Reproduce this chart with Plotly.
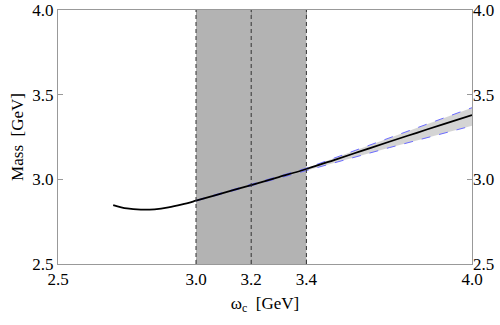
import plotly.graph_objects as go

omega = [2.70, 2.75, 2.80, 2.85, 2.90, 2.95, 3.00, 3.10, 3.20, 3.30, 3.40, 3.50, 3.60, 3.70, 3.80, 3.90, 4.00]
mass = [2.848, 2.828, 2.821, 2.823, 2.834, 2.852, 2.874, 2.920, 2.966, 3.013, 3.061, 3.114, 3.168, 3.222, 3.275, 3.328, 3.380]

band_omega = [3.00, 3.10, 3.20, 3.30, 3.40, 3.50, 3.60, 3.70, 3.80, 3.90, 4.00]
band_upper = [2.876, 2.923, 2.969, 3.017, 3.066, 3.125, 3.184, 3.244, 3.303, 3.363, 3.423]
band_lower = [2.872, 2.917, 2.963, 3.009, 3.055, 3.099, 3.143, 3.187, 3.230, 3.273, 3.316]

window_lo, window_mid, window_hi = 3.0, 3.2, 3.4
x_ticks = [2.5, 3.0, 3.2, 3.4, 4.0]
y_ticks = [2.5, 3.0, 3.5, 4.0]

font = "Liberation Serif"
fig = go.Figure()

fig.add_vrect(x0=window_lo, x1=window_hi, fillcolor="#b3b3b3", opacity=1, line_width=0, layer="below")
for xv in [window_lo, window_mid, window_hi]:
    fig.add_vline(x=xv, line=dict(color="#333333", width=1, dash="4px,3px"))

fig.add_trace(go.Scatter(x=band_omega, y=band_lower, mode="lines",
                         line=dict(color="#6a6aff", width=1, dash="dash"), showlegend=False))
fig.add_trace(go.Scatter(x=band_omega, y=band_upper, mode="lines", fill="tonexty",
                         fillcolor="rgba(205,205,205,0.85)",
                         line=dict(color="#6a6aff", width=1, dash="dash"), showlegend=False))
fig.add_trace(go.Scatter(x=omega, y=mass, mode="lines",
                         line=dict(color="black", width=1.8, shape="spline"), showlegend=False))
fig.add_trace(go.Scatter(x=[2.5], y=[2.5], yaxis="y2", mode="markers",
                         marker=dict(opacity=0), showlegend=False, hoverinfo="skip"))

axis_common = dict(showgrid=False, zeroline=False, ticks="inside", ticklen=5,
                   tickcolor="#999999", linecolor="#999999", linewidth=1, automargin=False,
                   tickfont=dict(family=font, size=17, color="black"))

fig.update_layout(
    width=500, height=325,
    margin=dict(l=58, r=28, t=10, b=61),
    plot_bgcolor="white", paper_bgcolor="white",
    xaxis=dict(range=[2.5, 4.0], tickvals=x_ticks, ticktext=[f"{v:.1f}" for v in x_ticks],
               mirror="ticks", showline=True,
               title=dict(text="ω<sub>c</sub>  [GeV]", font=dict(family=font, size=17, color="black"), standoff=8),
               **axis_common),
    yaxis=dict(range=[2.5, 4.0], tickvals=y_ticks, ticktext=[f"{v:.1f}" for v in y_ticks],
               showline=True, mirror=True,
               title=dict(text="Mass  [GeV]", font=dict(family=font, size=17, color="black"), standoff=4),
               **axis_common),
    yaxis2=dict(range=[2.5, 4.0], tickvals=y_ticks, ticktext=[f"{v:.1f}" for v in y_ticks],
                overlaying="y", side="right", showline=False, **axis_common),
)

fig.write_html("out.html", config={"displayModeBar": False},
               post_script="document.body.style.margin='0';document.body.style.padding='0';document.body.style.overflow='hidden';")
